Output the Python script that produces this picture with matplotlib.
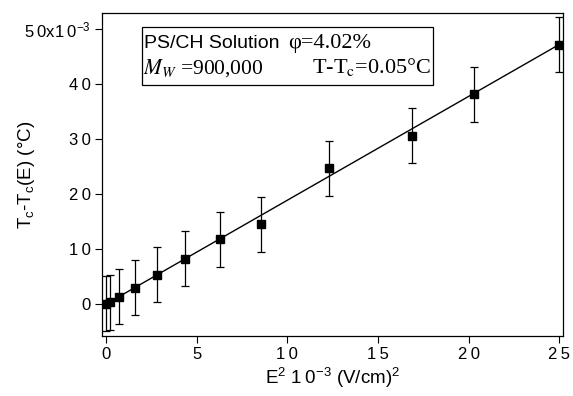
import matplotlib
matplotlib.use("Agg")
import matplotlib.pyplot as plt
from matplotlib.patches import Rectangle

plt.rcParams["font.family"] = "Liberation Sans"
plt.rcParams["mathtext.fontset"] = "custom"
plt.rcParams["mathtext.rm"] = "Liberation Sans"
plt.rcParams["mathtext.it"] = "Liberation Sans:italic"

# data (y in units of 1e-3 degC)
e2 = [0.0, 0.22, 0.73, 1.6, 2.81, 4.36, 6.27, 8.54, 12.29, 16.85, 20.3, 25.0]
dtc = [0.1, 0.3, 1.3, 3.0, 5.3, 8.2, 11.8, 14.5, 24.7, 30.6, 38.1, 47.1]
err = [5.0] * len(e2)

fit_x = [0.0, 25.0]
fit_y = [0.0, 47.2]

xticks = [0, 5, 10, 15, 20, 25]
xtick_labels = ["0", "5", "1\u20090", "1\u20095", "2\u20090", "2\u20095"]
yticks = [0, 10, 20, 30, 40, 50]
ytick_labels = ["0", "1\u20090", "2\u20090", "3\u20090", "4\u20090",
                "5\u20090x1\u20090$^{-3}$"]

fig = plt.figure(figsize=(5.73, 3.96), dpi=100)
ax = fig.add_axes([0.178, 0.1515, 0.8045, 0.8155])

ax.plot(fit_x, fit_y, color="black", lw=1.0)
ax.errorbar(e2, dtc, yerr=err, fmt="s", color="black", ms=6,
            ecolor="black", elinewidth=0.9, capsize=3, capthick=0.9)

ax.set_xlim(-0.22, 25.2)
ax.set_ylim(-5.8, 52.9)
ax.set_xticks(xticks)
ax.set_xticklabels(xtick_labels)
ax.set_yticks(yticks)
ax.set_yticklabels(ytick_labels)
ax.tick_params(direction="out", length=5, width=0.8, labelsize=12, pad=3)
for s in ax.spines.values():
    s.set_linewidth(0.9)

ax.set_xlabel("E$^{2}$ 1\u20090$^{-3}$ (V/cm)$^{2}$", fontsize=13.5, labelpad=3)
ax.set_ylabel("T$_\\mathrm{c}$-T$_\\mathrm{c}$(E) (°C)", fontsize=13.5)
ax.yaxis.set_label_coords(-0.142, 0.5)

# annotation box
ax.add_patch(Rectangle((0.087, 0.777), 0.631, 0.18, transform=ax.transAxes,
                       fill=False, edgecolor="black", lw=0.9))
ax.text(0.091, 0.892, "PS/CH Solution", transform=ax.transAxes,
        fontsize=14, va="baseline", ha="left")
ax.text(0.403, 0.892, "φ=4.02%", transform=ax.transAxes,
        fontsize=16, va="baseline", ha="left", family="Liberation Serif")
ax.text(0.089, 0.814, "$M_W$ =900,000", transform=ax.transAxes,
        fontsize=15.5, va="baseline", ha="left", family="Liberation Serif",
        math_fontfamily="stix")
ax.text(0.714, 0.814, "T-T$_\\mathrm{c}$=0.05°C", transform=ax.transAxes,
        fontsize=16, va="baseline", ha="right", family="Liberation Serif",
        math_fontfamily="stix")

fig.savefig("out.png", dpi=100)
